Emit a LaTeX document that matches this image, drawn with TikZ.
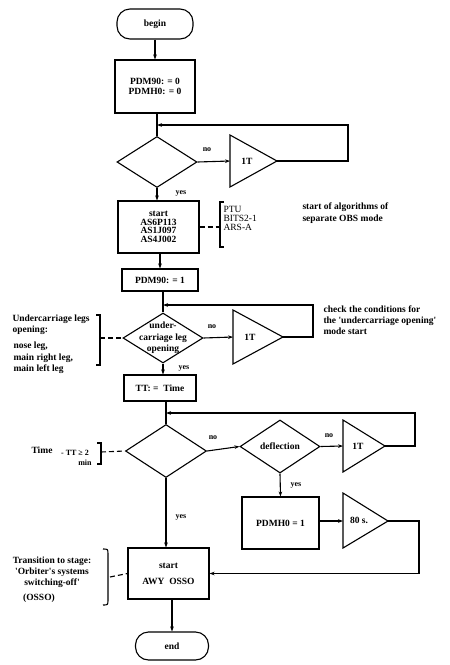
\documentclass[tikz,border=0pt]{standalone}
\usepackage{fontspec}
\setmainfont{Liberation Serif}
\usetikzlibrary{arrows.meta,shapes.geometric}
\newcommand{\aq}{\textquotesingle}
\begin{document}
\begin{tikzpicture}[x=1pt,y=-1pt,line width=1.1pt,
  every node/.style={font=\bfseries\fontsize{9.5}{9}\selectfont,inner sep=0pt},
  box/.style={draw,rectangle},
  term/.style={draw,rectangle,rounded corners=13pt},
  dia/.style={draw,diamond,inner sep=0pt},
  lbl/.style={font=\bfseries\fontsize{8}{8}\selectfont},
  note/.style={align=left,font=\bfseries\fontsize{9.5}{11}\selectfont},
  plain/.style={align=left,font=\fontsize{9.5}{9}\selectfont},
  arr/.style={-{Stealth[length=5pt,width=3.6pt]}},
  dsh/.style={dash pattern=on 5pt off 3pt}]
\useasboundingbox (0,0) rectangle (450,665);

% ---- main column nodes
\node[term,minimum width=76pt,minimum height=30pt] (begin) at (155,24) {begin};
\node[box,minimum width=80pt,minimum height=53pt,align=center,font=\bfseries\fontsize{9.5}{10}\selectfont] (box1) at (155,86.5) {PDM90: = 0\\PDMH0: = 0};
\node[dia,minimum width=80pt,minimum height=51pt] (d1) at (157,162) {};
\node[box,minimum width=81pt,minimum height=52pt,align=center,font=\bfseries\fontsize{9.5}{8.6}\selectfont] (sb) at (158.5,227) {start\\AS6P113\\AS1J097\\AS4J002};
\node[box,minimum width=76pt,minimum height=22pt] (p1) at (160,280) {PDM90: = 1};
\node[dia,minimum width=80pt,minimum height=50pt] (d2) at (163,338) {};
\node[align=center,font=\bfseries\fontsize{9.5}{11.5}\selectfont] (d2t) at (d2) {under-\\carriage leg\\opening};
\node[box,minimum width=72pt,minimum height=26pt] (tt) at (160,388) {TT: = \ Time};
\node[dia,minimum width=81pt,minimum height=53pt] (d3) at (166,451) {};
\node[dia,minimum width=80pt,minimum height=53pt] (d4) at (280,446.5) {};
\node (d4t) at (d4) {deflection};
\node[box,minimum width=77pt,minimum height=52pt] (ph) at (280.5,523) {PDMH0 = 1};
\node[box,minimum width=81pt,minimum height=51pt,align=center] (awy) at (168.5,573.5) {start\\[7pt]AWY \ OSSO};
\node[term,minimum width=73pt,minimum height=28pt] (endn) at (172,646) {end};

% ---- delay triangles
\coordinate (t1w) at (230,161); \coordinate (t1e) at (277,161);
\draw (230,135) -- (t1e) -- (230,187) -- cycle;
\node (t1t) at (247,161) {1T};
\coordinate (t2w) at (233,337); \coordinate (t2e) at (283,337);
\draw (233,310) -- (t2e) -- (233,364) -- cycle;
\node (t2t) at (250,337) {1T};
\coordinate (t3w) at (343,446); \coordinate (t3e) at (385,446);
\draw (343,420) -- (t3e) -- (343,472) -- cycle;
\node (t3t) at (358,446) {1T};
\coordinate (t4w) at (343,521); \coordinate (t4e) at (388,521);
\draw (343,493) -- (t4e) -- (343,548) -- cycle;
\node (t4t) at (359,520) {80 s.};

% ---- main flow
\draw[arr] (begin.south -| box1.north) -- (box1.north);
\draw (box1.south -| d1.north) -- (d1.north);
\draw[arr] (d1.south) -- (d1.south |- sb.north);
\draw[arr] (sb.south -| p1.north) -- (p1.north);
\draw (p1.south -| d2.north) -- (d2.north);
\draw[arr] (d2.south) -- (d2.south |- tt.north);
\draw (tt.south -| d3.north) -- (d3.north);
\draw[arr] (d3.south) -- (d3.south |- awy.north);
\draw[arr] (awy.south -| endn.north) -- (endn.north);

% ---- branches
\draw[arr] (d1.east) -- (t1w);
\coordinate (fb1) at (157,125);
\draw[arr] (t1e) -- ++(71,0) |- (fb1);
\draw[arr] (d2.east) -- (t2w);
\coordinate (fb2) at (163,305);
\draw[arr] (t2e) -- ++(30,0) |- (fb2);
\draw[arr] (d3.east) -- (d4.west);
\draw[arr] (d4.east) -- (t3w);
\coordinate (fb3) at (166,413);
\draw[arr] (t3e) -- ++(30,0) |- (fb3);
\draw[arr] (d4.south) -- (ph.north);
\draw[arr] (ph.east |- t4w) -- (t4w);
\draw[arr] (t4e) -- ++(31,0) |- (awy.east);

% ---- yes / no labels
\node[lbl] (n1) at (207,150) {no};
\node[lbl] (y1) at (181,193) {yes};
\node[lbl] (n2) at (212,327) {no};
\node[lbl] (y2) at (184,368) {yes};
\node[lbl] (n3) at (213,438) {no};
\node[lbl] (n4) at (329,436) {no};
\node[lbl] (y3) at (296,485) {yes};
\node[lbl] (y4) at (181,517) {yes};

% ---- side annotation: PTU
\coordinate (b1) at (220,227);
\draw[dsh] (sb.east) -- (b1);
\draw (224,202) -- (220,202) -- (220,247) -- (224,247);
\node[plain,anchor=west] (ptu) at (223,218) {PTU\\BITS2-1\\ARS-A};
\node[note,anchor=west,font=\bfseries\fontsize{9.5}{12}\selectfont] (obs) at (302,213.5) {start of algorithms of\\separate OBS mode};

% ---- side annotation: undercarriage
\coordinate (b2) at (100,338);
\draw[dsh] (b2) -- (d2.west);
\draw (96,315) -- (100,315) -- (100,365) -- (96,365);
\node[note,anchor=west] (uc1) at (12,325) {Undercarriage legs\\opening:};
\node[note,anchor=west,font=\bfseries\fontsize{9.5}{11.5}\selectfont] (uc2) at (13,358) {nose leg,\\main right leg,\\main left leg};
\node[note,anchor=west] (chk) at (323,320) {check the conditions for\\the \aq undercarriage opening\aq\\mode start};

% ---- side annotation: time
\coordinate (b3) at (101,452);
\draw[dsh] (b3) -- (d3.west);
\draw (97,443) -- (101,443) -- (101,464) -- (97,464);
\node (tm1) at (42,450) {Time};
\node[font=\bfseries\fontsize{8}{8}\selectfont] (tm2) at (75,453) {- TT ≥ 2};
\node[font=\bfseries\fontsize{8}{8}\selectfont] (tm3) at (85,463) {min};

% ---- side annotation: OSSO
\coordinate (b4) at (110,577);
\draw[dsh] (b4) -- (awy.west);
\draw (103,549) .. controls (108,549) .. (108,555) -- (108,599) .. controls (108,605) .. (103,605);
\node[note,align=center,font=\bfseries\fontsize{9.5}{11}\selectfont] (tr) at (52,572) {Transition to stage:\\\aq Orbiter\aq s systems\\switching-off\aq};
\node (osso) at (39,598) {(OSSO)};
\end{tikzpicture}
\end{document}
